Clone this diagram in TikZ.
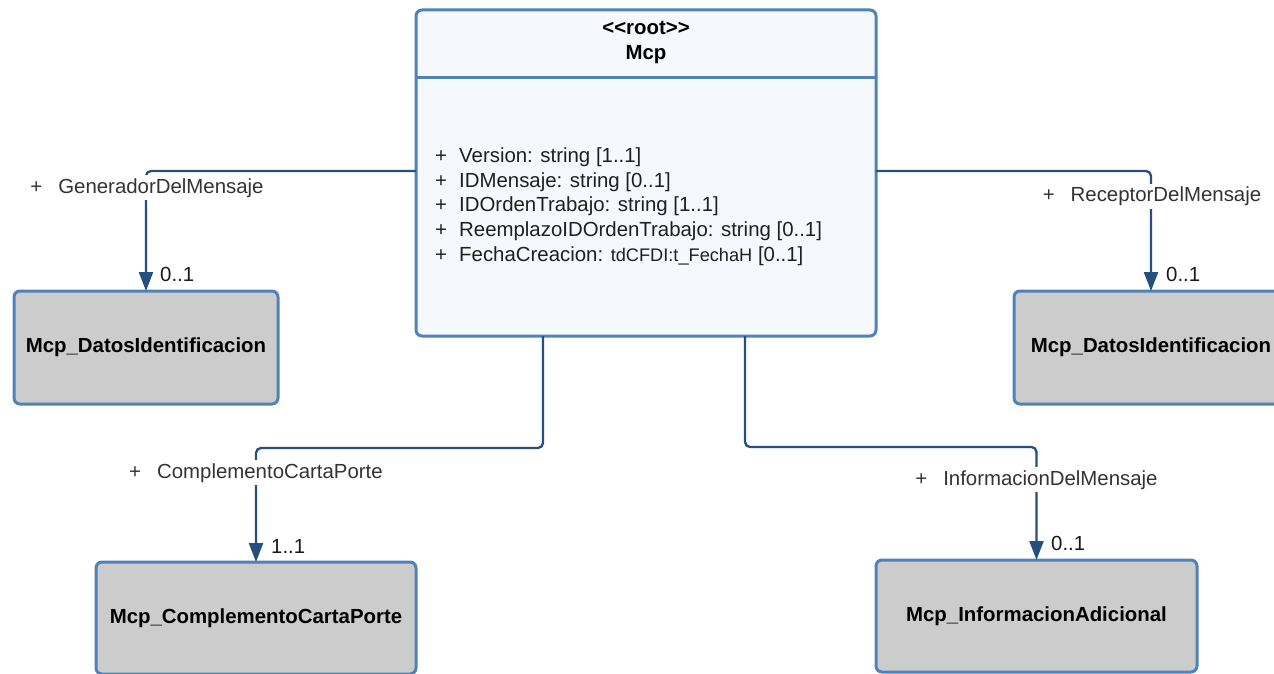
\documentclass[tikz,border=0pt]{standalone}
\usepackage{fontspec}
\setmainfont{Liberation Sans}
\usetikzlibrary{arrows.meta}
\definecolor{bordc}{HTML}{4E82B8}
\definecolor{mcpfill}{HTML}{F5F9FE}
\definecolor{grayfill}{HTML}{CCCCCC}
\definecolor{connc}{HTML}{244F7E}
\definecolor{lblc}{HTML}{333333}
\begin{document}
\begin{tikzpicture}[x=1pt,y=-1pt,
 font=\fontsize{20.4}{24.5}\selectfont,
 classbox/.style={draw=bordc, line width=3pt, rounded corners=6pt, inner sep=0pt, outer sep=0pt},
 mainbox/.style={classbox, fill=mcpfill, minimum width=460pt, minimum height=326pt},
 leafbox/.style={classbox, fill=grayfill, font=\fontsize{20.4}{24.5}\selectfont\bfseries, text=black, align=center},
 conn/.style={draw=connc, line width=2.3pt, rounded corners=5pt, -{Triangle[width=14pt,length=19pt]}},
 rolelbl/.style={fill=white, text=lblc, inner sep=3pt, anchor=base},
 mult/.style={text=black!90, inner sep=0pt, anchor=base west},
 attr/.style={inner sep=0pt, anchor=base west, text=black!88},
 headtxt/.style={inner sep=0pt, anchor=base, font=\fontsize{20.4}{24.5}\selectfont\bfseries, text=black}]

\useasboundingbox (0,0) rectangle (1274,674);

% main class
\node[mainbox] (mcp) at (646,173) {};
\draw[bordc, line width=3pt] ([yshift=-68pt]mcp.north west) -- ([yshift=-68pt]mcp.north east);
\node[headtxt] (stereo) at (646,35) {<{}<root>{}>};
\node[headtxt] (mcpname) at (646,60) {Mcp};

% attributes
\node[attr] (p1) at (435,162.3) {+};
\node[attr] (a1) at (459,162.3) {Version: string [1..1]};
\node[attr] (p2) at (435,187.1) {+};
\node[attr] (a2) at (459,187.1) {IDMensaje: string [0..1]};
\node[attr] (p3) at (435,211.9) {+};
\node[attr] (a3) at (459,211.9) {IDOrdenTrabajo: string [1..1]};
\node[attr] (p4) at (435,236.7) {+};
\node[attr] (a4) at (459,236.7) {ReemplazoIDOrdenTrabajo: string [0..1]};
\node[attr] (p5) at (435,261.5) {+};
\node[attr] (a5) at (459,261.5) {FechaCreacion: {\fontsize{18.2}{22}\selectfont tdCFDI:t\_FechaH} [0..1]};

% leaf classes
\node[leafbox, minimum width=264pt, minimum height=113pt] (gen) at (146,347.5) {Mcp\_DatosIdentificacion};
\node[leafbox, minimum width=274pt, minimum height=113pt] (rec) at (1151,347.5) {Mcp\_DatosIdentificacion};
\node[leafbox, minimum width=320pt, minimum height=112pt] (comp) at (256,618) {Mcp\_ComplementoCartaPorte};
\node[leafbox, minimum width=321pt, minimum height=112pt] (info) at (1036.5,616) {Mcp\_InformacionAdicional};

% connectors
\draw[conn] ([yshift=2pt]mcp.west) -| (gen.north);
\draw[conn] ([yshift=2pt]mcp.east) -| (rec.north);
\draw[conn] ([xshift=-103pt]mcp.south) -- ++(0,112) -| (comp.north);
\draw[conn] ([xshift=99pt]mcp.south) -- ++(0,111) -| (info.north);

% role labels
\node[rolelbl] (lg) at (147,193) {+\hspace{16pt}GeneradorDelMensaje};
\node[rolelbl] (lr) at (1152,201.7) {+\hspace{16pt}ReceptorDelMensaje};
\node[rolelbl] (lc) at (256,478) {+\hspace{16pt}ComplementoCartaPorte};
\node[rolelbl] (li) at (1036.5,485) {+\hspace{16pt}InformacionDelMensaje};

% multiplicities
\node[mult] (mg) at (160,281.7) {0..1};
\node[mult] (mr) at (1166,281.7) {0..1};
\node[mult] (mc) at (271,553.3) {1..1};
\node[mult] (mi) at (1051,550) {0..1};
\end{tikzpicture}
\end{document}
